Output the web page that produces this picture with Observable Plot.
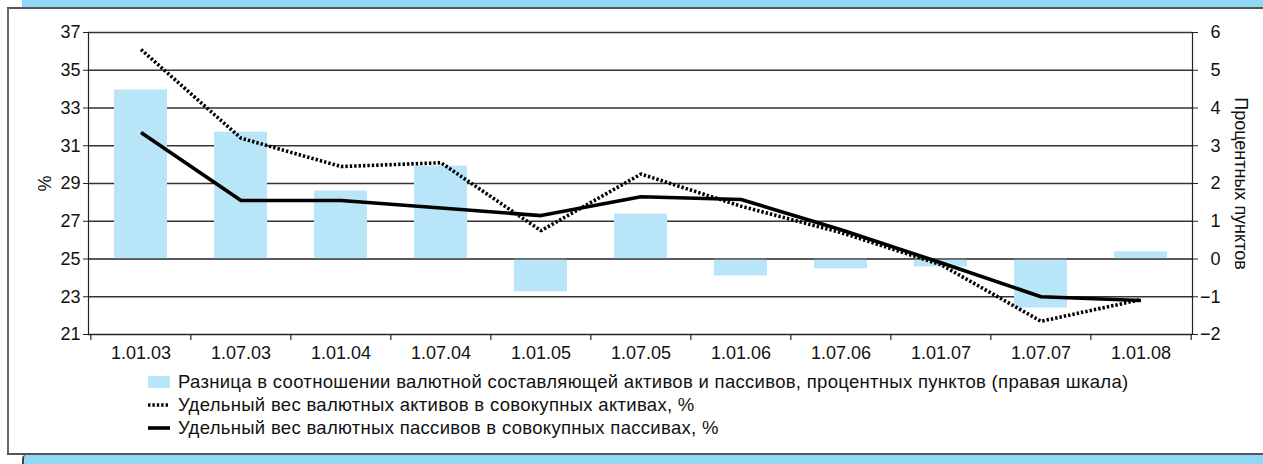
<!DOCTYPE html>
<html>
<head>
<meta charset="utf-8">
<script src="https://cdn.jsdelivr.net/npm/d3@7"></script>
<script src="https://cdn.jsdelivr.net/npm/@observablehq/plot@0.6"></script>
<style>
  html, body { margin: 0; padding: 0; background: #fff; }
  #wrap { position: relative; width: 1263px; height: 464px; overflow: hidden; background: #fff; font-family: "Liberation Sans", Arial, sans-serif; }
  .band { position: absolute; background: #8fd9f6; }
  .hline { position: absolute; background: #555; }
  #chart { position: absolute; left: 0; top: 0; }
  #legend { position: absolute; left: 148px; top: 370px; font-size: 18.5px; letter-spacing: 0.3px; color: #111; }
  .row { height: 23px; display: flex; align-items: center; white-space: nowrap; }
  .sw { width: 22px; margin-right: 8px; flex: none; }
</style>
</head>
<body>
<div id="wrap">
  <div class="band" style="left:22px;top:0;width:1241px;height:7px;"></div>
  <div class="hline" style="left:7px;top:7px;width:1256px;height:2px;"></div>
  <div class="hline" style="left:7px;top:8px;width:2px;height:447px;background:#666;"></div>
  <div class="hline" style="left:7px;top:453px;width:1256px;height:2px;"></div>
  <div class="band" style="left:22px;top:455px;width:1241px;height:9px;border-left:2px solid #444;border-top-left-radius:4px;"></div>
  <div id="chart"></div>
  <div id="legend"></div>
</div>
<script>
const categories = ["1.01.03","1.07.03","1.01.04","1.07.04","1.01.05","1.07.05","1.01.06","1.07.06","1.01.07","1.07.07","1.01.08"];
// difference, percentage points (right scale)
const diffPP = [4.48, 3.36, 1.80, 2.46, -0.87, 1.19, -0.45, -0.26, -0.21, -1.30, 0.19];
// share of FX assets in total assets, %
const assetsShare = [36.1, 31.4, 29.9, 30.1, 26.5, 29.5, 27.8, 26.4, 24.7, 21.7, 22.85];
// share of FX liabilities in total liabilities, %
const liabShare = [31.7, 28.1, 28.1, 27.7, 27.3, 28.3, 28.15, 26.55, 24.8, 23.0, 22.8];
const leftTicks = [21, 23, 25, 27, 29, 31, 33, 35, 37];
const rightTicks = [-2, -1, 0, 1, 2, 3, 4, 5, 6];
const legendLabels = [
  "Разница в соотношении валютной составляющей активов и пассивов, процентных пунктов (правая шкала)",
  "Удельный вес валютных активов в совокупных активах, %",
  "Удельный вес валютных пассивов в совокупных пассивах, %"
];
const yLabelLeft = "%";
const yLabelRight = "Процентных пунктов";

// right scale (pp) -> left scale (%): 0 pp <-> 25 %, 1 pp <-> 2 %
const toLeft = v => 25 + 2 * v;
const toRight = d => (d - 25) / 2;
const fmt = v => (v < 0 ? "\u2212" + Math.abs(v) : String(v));

const W = 1263, H = 372, mL = 88, mR = 71, mT = 32, mB = 38;
const step = (W - mL - mR) / categories.length;
const rows = categories.map((c, i) => ({c, diff: diffPP[i], a: assetsShare[i], l: liabShare[i]}));

const chart = Plot.plot({
  width: W, height: H,
  marginLeft: mL, marginRight: mR, marginTop: mT, marginBottom: mB,
  style: {fontFamily: "'Liberation Sans', Arial, sans-serif", fontSize: "18px", color: "#111", background: "transparent", overflow: "visible"},
  x: {type: "band", domain: categories, paddingInner: 0.47, paddingOuter: 0.235, label: null},
  y: {domain: [21, 37], label: null},
  marks: [
    Plot.gridY(leftTicks, {stroke: "#333", strokeOpacity: 1, strokeWidth: 1.3}),
    Plot.barY(rows, {x: "c", y1: () => toLeft(0), y2: d => toLeft(d.diff), fill: "#b9e5f9"}),
    Plot.ruleY([toLeft(0)], {stroke: "#555", strokeWidth: 1.3}),
    Plot.line(rows, {x: "c", y: "a", stroke: "#000", strokeWidth: 3.6, strokeDasharray: "2.4,2", strokeLinecap: "butt", strokeLinejoin: "miter"}),
    Plot.line(rows, {x: "c", y: "l", stroke: "#000", strokeWidth: 3.6, strokeLinecap: "butt", strokeLinejoin: "miter"}),
    Plot.frame({anchor: "left", stroke: "#222", strokeWidth: 1.2}),
    Plot.frame({anchor: "right", stroke: "#222", strokeWidth: 1.2}),
    Plot.frame({anchor: "bottom", stroke: "#222", strokeWidth: 1.2}),
    Plot.ruleX(categories, {x: d => d, dx: -step / 2, y1: 21, y2: 21, insetBottom: -6, stroke: "#222", strokeWidth: 1.2}),
    Plot.ruleX([categories[categories.length - 1]], {x: d => d, dx: step / 2, y1: 21, y2: 21, insetBottom: -6, stroke: "#222", strokeWidth: 1.2}),
    Plot.axisY(leftTicks, {anchor: "left", tickSize: 5, tickPadding: 3, label: null, fontSize: 18, stroke: "#222"}),
    Plot.axisY(leftTicks, {anchor: "right", tickSize: 5, tickPadding: 23, textAnchor: "end", tickFormat: d => fmt(toRight(d)), label: null, fontSize: 18, stroke: "#222"}),
    Plot.axisX({tickSize: 0, tickPadding: 12, label: null, fontSize: 18}),
    Plot.text([yLabelLeft], {frameAnchor: "left", textAnchor: "middle", dx: -43, rotate: -90, fontSize: 18, fill: "#111"}),
    Plot.text([yLabelRight], {frameAnchor: "right", textAnchor: "middle", dx: 48, rotate: 90, fontSize: 18, fill: "#111"})
  ]
});
document.getElementById("chart").appendChild(chart);

const legend = document.getElementById("legend");
const swatches = [
  '<svg class="sw" width="22" height="12"><rect x="0" y="0" width="22" height="12" fill="#b9e5f9"/></svg>',
  '<svg class="sw" width="22" height="6"><line x1="0" x2="22" y1="3" y2="3" stroke="#000" stroke-width="3.6" stroke-dasharray="2.4,2"/></svg>',
  '<svg class="sw" width="22" height="6"><line x1="0" x2="22" y1="3" y2="3" stroke="#000" stroke-width="3.6"/></svg>'
];
legendLabels.forEach((t, i) => {
  const r = document.createElement("div");
  r.className = "row";
  r.innerHTML = swatches[i] + "<span>" + t + "</span>";
  legend.appendChild(r);
});
</script>
</body>
</html>
